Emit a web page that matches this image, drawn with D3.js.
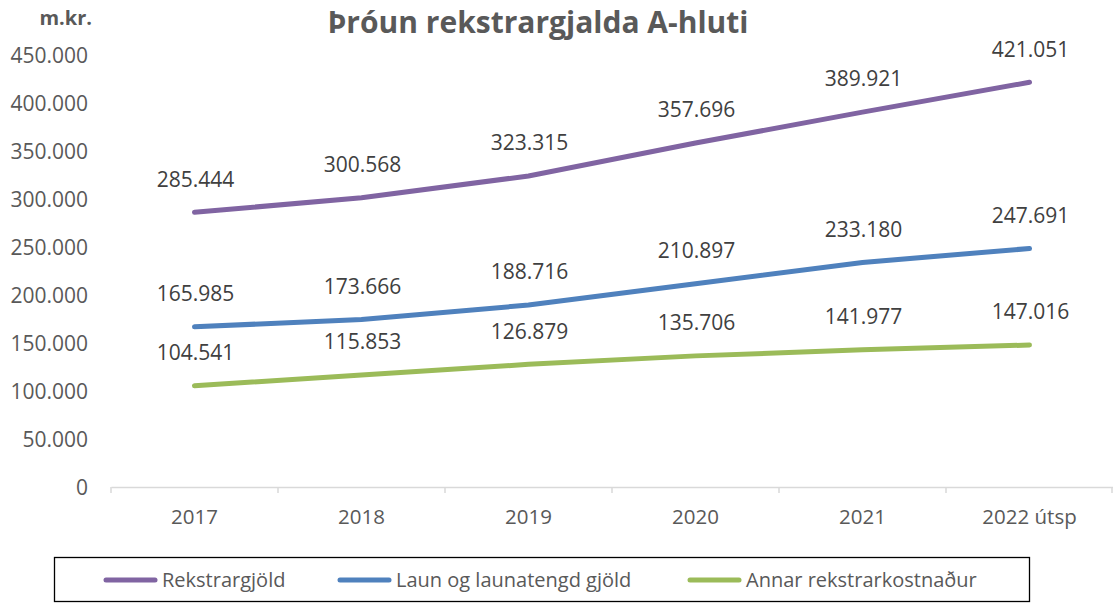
<!DOCTYPE html>
<html><head><meta charset="utf-8">
<script src="https://cdn.jsdelivr.net/npm/d3@7"></script>
<style>body{margin:0;background:#fff}svg{display:block}</style>
</head><body>
<script>
const categories = ["2017","2018","2019","2020","2021","2022 útsp"];
const rekstrargjold = [285444,300568,323315,357696,389921,421051];
const laun = [165985,173666,188716,210897,233180,247691];
const annar = [104541,115853,126879,135706,141977,147016];
const seriesNames = ["Rekstrargjöld","Laun og launatengd gjöld","Annar rekstrarkostnaður"];
const colors = ["#8064A2","#4F81BD","#9BBB59"];
const yTicks = [0,50000,100000,150000,200000,250000,300000,350000,400000,450000];

const W=1113,H=603;
const svg=d3.select("body").append("svg").attr("width",W).attr("height",H);
const font="'Open Sans', 'Noto Sans', sans-serif";
const x=d3.scaleBand().domain(categories).range([111,1113]);
const y=d3.scaleLinear().domain([0,450000]).range([486,54.5]);
const fmt=v=>d3.format(",")(v).replace(/,/g,".");

// title
svg.append("text").attr("x",538).attr("y",33).attr("text-anchor","middle")
  .attr("font-family",font).attr("font-weight","bold").attr("font-size",30).attr("fill","#595959")
  .text("Þróun rekstrargjalda A-hluti");
svg.append("text").attr("x",92).attr("y",25).attr("text-anchor","end")
  .attr("font-family",font).attr("font-weight","bold").attr("font-size",20).attr("fill","#595959")
  .text("m.kr.");

// y axis labels
svg.append("g").selectAll("text").data(yTicks).join("text")
  .attr("x",88).attr("y",d=>y(d)+1.5).attr("dy","0.35em").attr("text-anchor","end")
  .attr("font-family",font).attr("font-size",21).attr("fill","#595959")
  .text(d=>fmt(d));

// x axis
const xa=svg.append("g").attr("transform",`translate(0,${y(0)+1})`)
  .call(d3.axisBottom(x).tickSize(0).tickFormat(d=>d));
xa.select(".domain").attr("stroke","#d9d9d9").attr("stroke-width",1.5);
xa.selectAll(".tick text").attr("font-family",font).attr("font-size",20.5).attr("fill","#595959")
  .attr("y",30).attr("dy","0.35em");
svg.append("g").selectAll("line").data(categories.map((c,i)=>i===0?x.range()[0]:x(c)).concat([x.range()[1]-1]))
  .join("line").attr("x1",d=>d).attr("x2",d=>d).attr("y1",y(0)+1).attr("y2",y(0)+7)
  .attr("stroke","#d9d9d9").attr("stroke-width",1.5);

const data=[rekstrargjold,laun,annar];
const line=d3.line().x((d,i)=>x(categories[i])+x.bandwidth()/2).y(d=>y(d));
data.forEach((s,k)=>{
  svg.append("path").datum(s).attr("d",line).attr("fill","none")
    .attr("stroke",colors[k]).attr("stroke-width",5).attr("stroke-linecap","round");
  svg.append("g").selectAll("text").data(s).join("text")
    .attr("x",(d,i)=>x(categories[i])+x.bandwidth()/2+1).attr("y",d=>y(d)-33).attr("dy","0.35em")
    .attr("text-anchor","middle").attr("font-family",font).attr("font-size",21).attr("fill","#404040")
    .text(d=>fmt(d));
});

// legend
svg.append("rect").attr("x",54.5).attr("y",557.5).attr("width",975).attr("height",44)
  .attr("fill","none").attr("stroke","#000").attr("stroke-width",1.3);
const sw=[[103,158],[337,392],[687,742]];
seriesNames.forEach((n,k)=>{
  svg.append("line").attr("x1",sw[k][0]+3).attr("x2",sw[k][1]-3).attr("y1",580).attr("y2",580)
    .attr("stroke",colors[k]).attr("stroke-width",5).attr("stroke-linecap","round");
  svg.append("text").attr("x",sw[k][1]+4).attr("y",580).attr("dy","0.35em")
    .attr("font-family",font).attr("font-size",20).attr("fill","#595959").text(n);
});
</script>
</body></html>
